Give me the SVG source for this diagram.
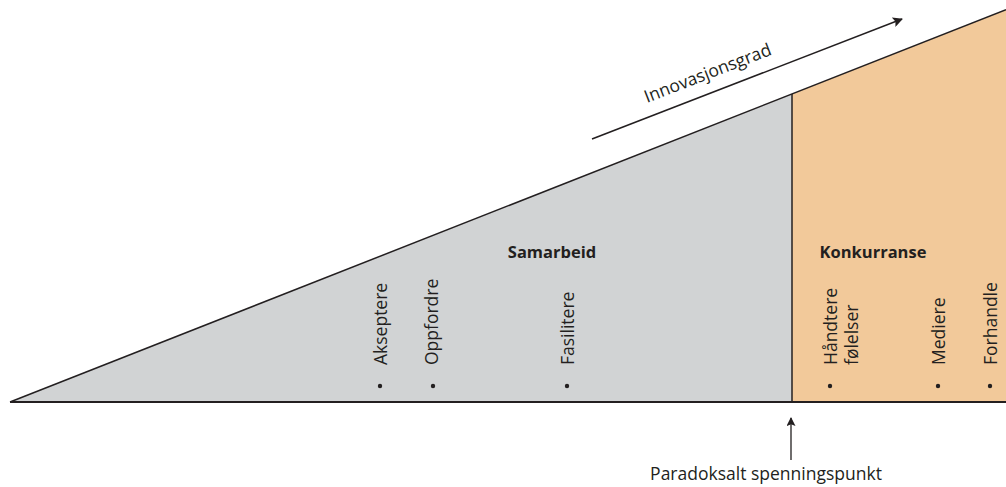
<svg xmlns="http://www.w3.org/2000/svg" width="1006" height="487" viewBox="0 0 1006 487">
  <style>
    .lbl { font-family: "Open Sans", "Liberation Sans", sans-serif; font-size: 17.5px; fill: #231f20; }
    .head { font-family: "Open Sans", "Liberation Sans", sans-serif; font-size: 16.5px; font-weight: 700; fill: #231f20; text-anchor: middle; }
    .edge { stroke: #231f20; fill: none; }
    .dot { fill: #231f20; }
  </style>
  <defs>
    <marker id="ah" viewBox="0 0 10 10" refX="9" refY="5" markerWidth="10" markerHeight="9" markerUnits="userSpaceOnUse" orient="auto">
      <path d="M0,0 L10,5 L0,10 L2,5 Z" fill="#231f20"/>
    </marker>
    <marker id="ah2" viewBox="0 0 10 10" refX="9" refY="5" markerWidth="12" markerHeight="10" markerUnits="userSpaceOnUse" orient="auto">
      <path d="M0,0 L10,5 L0,10 L2,5 Z" fill="#231f20"/>
    </marker>
  </defs>
  <rect width="1006" height="487" fill="#ffffff"/>

  <g id="samarbeid">
    <polygon points="10,402 792,94 792,402" fill="#d1d3d4"/>
    <text class="head" x="552" y="258">Samarbeid</text>
    <circle class="dot" cx="380" cy="386" r="2.2"/>
    <text class="lbl" transform="translate(387,365) rotate(-90)">Akseptere</text>
    <circle class="dot" cx="433" cy="386" r="2.2"/>
    <text class="lbl" transform="translate(438,365) rotate(-90)">Oppfordre</text>
    <circle class="dot" cx="567" cy="386" r="2.2"/>
    <text class="lbl" transform="translate(574,365) rotate(-90)">Fasilitere</text>
  </g>

  <g id="konkurranse">
    <polygon points="792,94 1006,9.7 1006,402 792,402" fill="#f2c99a"/>
    <text class="head" x="873" y="258">Konkurranse</text>
    <circle class="dot" cx="830" cy="386" r="2.2"/>
    <text class="lbl" transform="translate(837,365) rotate(-90)">Håndtere</text>
    <text class="lbl" transform="translate(858,365) rotate(-90)">følelser</text>
    <circle class="dot" cx="938" cy="386" r="2.2"/>
    <text class="lbl" transform="translate(945,365) rotate(-90)">Mediere</text>
    <circle class="dot" cx="990" cy="386" r="2.2"/>
    <text class="lbl" transform="translate(997,365) rotate(-90)">Forhandle</text>
  </g>

  <g id="connectors">
    <line class="edge" x1="10" y1="402" x2="1006" y2="9.7" stroke-width="1.5"/>
    <line class="edge" x1="792" y1="94" x2="792" y2="402" stroke-width="1.5"/>
    <line class="edge" x1="10" y1="402" x2="1006" y2="402" stroke-width="2" stroke="#3a3a3a"/>
    <line class="edge" x1="592" y1="139" x2="902" y2="19" stroke-width="1.5" marker-end="url(#ah2)"/>
    <line class="edge" x1="791" y1="460" x2="791" y2="418" stroke-width="1.3" marker-end="url(#ah)"/>
  </g>

  <g id="innovasjonsgrad">
    <text class="lbl" font-size="18.5" transform="translate(647,103) rotate(-21.2)">Innovasjonsgrad</text>
  </g>

  <g id="spenningspunkt">
    <text class="lbl" x="766" y="480" text-anchor="middle">Paradoksalt spenningspunkt</text>
  </g>
</svg>
